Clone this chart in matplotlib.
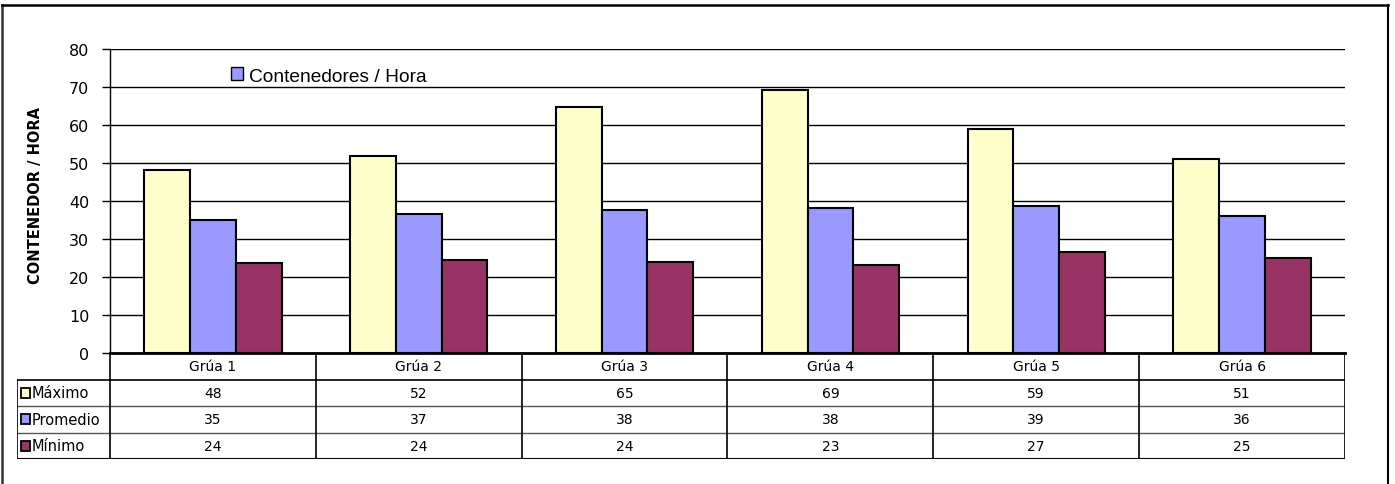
import matplotlib
matplotlib.use("Agg")
import matplotlib.pyplot as plt
from matplotlib.patches import Patch, Rectangle
from matplotlib.lines import Line2D
import numpy as np

# datos
gruas = ["Grúa 1", "Grúa 2", "Grúa 3", "Grúa 4", "Grúa 5", "Grúa 6"]
series = ["Máximo", "Promedio", "Mínimo"]
maximo = [48.2, 51.9, 64.7, 69.2, 58.9, 51.0]
promedio = [34.9, 36.7, 37.6, 38.1, 38.8, 36.1]
minimo = [23.7, 24.4, 24.0, 23.2, 26.6, 24.9]
colores = ["#FFFFCC", "#9999FF", "#993366"]
yticks = [0, 10, 20, 30, 40, 50, 60, 70, 80]

W, H = 1395, 485
fig = plt.figure(figsize=(W / 100, H / 100), dpi=100)
fig.patch.set_facecolor("white")

# area del grafico (pixeles -> fraccion)
x0, x1, ytop, ybot = 110, 1345, 50, 354
ax = fig.add_axes([x0 / W, 1 - ybot / H, (x1 - x0) / W, (ybot - ytop) / H])

x = np.arange(len(gruas))
ancho = 1 / 4.5
valores = [maximo, promedio, minimo]
for j, vals in enumerate(valores):
    ax.bar(x + (j - 1) * ancho, vals, ancho, color=colores[j],
           edgecolor="black", linewidth=1.5, zorder=3)

ax.set_xlim(-0.5, len(gruas) - 0.5)
ax.set_ylim(0, 80)
ax.set_yticks(yticks)
ax.yaxis.grid(True, color="black", linewidth=1, zorder=0)
ax.set_xticks([])
for s in ["top", "right"]:
    ax.spines[s].set_visible(False)
ax.spines["left"].set_linewidth(1)
ax.spines["bottom"].set_linewidth(2)
ax.tick_params(axis="y", direction="out", length=6, width=1, pad=9,
               labelsize=11.5)
ax.set_ylabel("CONTENEDOR / HORA", fontsize=10.5, fontweight="bold")
ax.yaxis.set_label_coords(-0.0545, 0.523)

leg = ax.legend(handles=[Patch(facecolor="#9999FF", edgecolor="black",
                               label="Contenedores / Hora")],
                loc="center left", bbox_to_anchor=(0.084, 0.911), frameon=False,
                handlelength=0.65, handleheight=0.65, handletextpad=0.3,
                prop={"family": "Liberation Sans", "size": 13.8})

# tabla de datos debajo
tx0, ty1 = 17, 460
izq = (x0 - tx0) / ((x1 - x0) / len(gruas))
tax = fig.add_axes([tx0 / W, 1 - ty1 / H, (x1 - tx0) / W, (ty1 - ybot) / H])
tax.set_xlim(-0.5 - izq, len(gruas) - 0.5)
tax.set_ylim(4, 0)
tax.axis("off")

xl = -0.5 - izq
xr = len(gruas) - 0.5
# lineas
tax.plot([xl, xr], [1, 1], color="black", lw=1.2)
tax.plot([xl, xr], [2, 2], color="#555555", lw=1)
tax.plot([xl, xr], [3, 3], color="#555555", lw=1)
tax.plot([xl, xr], [4, 4], color="black", lw=1.5)
tax.plot([xl, xl], [1, 4], color="black", lw=1.2)
for k in range(len(gruas) + 1):
    tax.plot([k - 0.5, k - 0.5], [0, 4], color="black", lw=1.2)

for i, g in enumerate(gruas):
    tax.text(i, 0.5, g, ha="center", va="center", fontsize=10)
    for j, vals in enumerate(valores):
        tax.text(i, j + 1.5, f"{vals[i]:.0f}", ha="center", va="center",
                 fontsize=10)

cu = 1 / ((x1 - x0) / len(gruas))  # unidades por pixel
for j, nom in enumerate(series):
    tax.add_patch(Rectangle((xl + 4 * cu, j + 1.5 - 0.18), 9 * cu, 0.36,
                            facecolor=colores[j], edgecolor="black", lw=1.3,
                            clip_on=False))
    tax.text(xl + 15 * cu, j + 1.5, nom, ha="left", va="center", fontsize=10.5)

# marco exterior
fig.add_artist(Line2D([2 / W, 2 / W], [0, 1 - 6 / H], color="#333333", lw=1.8))
fig.add_artist(Line2D([2 / W, 1388 / W], [1 - 6 / H, 1 - 6 / H], color="black", lw=1.8))
fig.add_artist(Line2D([1388 / W, 1388 / W], [0, 1 - 6 / H], color="black", lw=1.5))

fig.savefig("out.png", dpi=100)
